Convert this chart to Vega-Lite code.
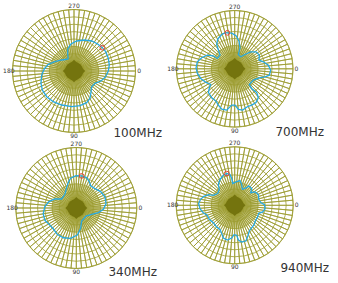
{
"$schema": "https://vega.github.io/schema/vega-lite/v6.json",
"padding": 0,
"spacing": 0,
"columns": 2,
"bounds": "flush",
"background": "white",
"config": {"view": {"stroke": null}, "concat": {"spacing": 0}, "font": "DejaVu Sans"},
"datasets": {
"one": [{"k": 1}],
"rings": [{"r": 0.16}, {"r": 0.28}, {"r": 0.4}, {"r": 0.52}, {"r": 0.64}, {"r": 0.76}, {"r": 0.88}, {"r": 1.0}],
"labels": [{"a": 0, "t": "0"}, {"a": 90, "t": "90"}, {"a": 180, "t": "180"}, {"a": 270, "t": "270"}],
"spokes": [{"w":1},{"w":1},{"w":1},{"w":1},{"w":1},{"w":1},{"w":1},{"w":1},{"w":1},{"w":1},{"w":1},{"w":1},{"w":1},{"w":1},{"w":1},{"w":1},{"w":1},{"w":1},{"w":1},{"w":1},{"w":1},{"w":1},{"w":1},{"w":1},{"w":1},{"w":1},{"w":1},{"w":1},{"w":1},{"w":1},{"w":1},{"w":1},{"w":1},{"w":1},{"w":1},{"w":1},{"w":1},{"w":1},{"w":1},{"w":1},{"w":1},{"w":1},{"w":1},{"w":1},{"w":1},{"w":1},{"w":1},{"w":1},{"w":1},{"w":1},{"w":1},{"w":1},{"w":1},{"w":1},{"w":1},{"w":1},{"w":1},{"w":1},{"w":1},{"w":1},{"w":1},{"w":1},{"w":1},{"w":1},{"w":1},{"w":1},{"w":1},{"w":1},{"w":1},{"w":1},{"w":1},{"w":1}],
"t100": [
{"i":0,"u":-0.093,"v":-0.195},{"i":1,"u":-0.2,"v":-0.179},{"i":2,"u":-0.309,"v":-0.151},{"i":3,"u":-0.418,"v":-0.109},{"i":4,"u":-0.483,"v":-0.033},{"i":5,"u":-0.525,"v":0.065},{"i":6,"u":-0.537,"v":0.2},{"i":7,"u":-0.515,"v":0.309},{"i":8,"u":-0.444,"v":0.418},{"i":9,"u":-0.337,"v":0.499},{"i":10,"u":-0.2,"v":0.553},{"i":11,"u":-0.037,"v":0.58},{"i":12,"u":0.098,"v":0.564},{"i":13,"u":0.206,"v":0.515},{"i":14,"u":0.26,"v":0.444},{"i":15,"u":0.276,"v":0.346},{"i":16,"u":0.288,"v":0.255},{"i":17,"u":0.341,"v":0.2},{"i":18,"u":0.439,"v":0.163},{"i":19,"u":0.515,"v":0.093},{"i":20,"u":0.558,"v":0},{"i":21,"u":0.574,"v":-0.098},{"i":22,"u":0.558,"v":-0.207},{"i":23,"u":0.515,"v":-0.314},{"i":24,"u":0.46,"v":-0.379},{"i":25,"u":0.385,"v":-0.439},{"i":26,"u":0.288,"v":-0.488},{"i":27,"u":0.167,"v":-0.504},{"i":28,"u":0.044,"v":-0.488},{"i":29,"u":-0.049,"v":-0.439},{"i":30,"u":-0.102,"v":-0.358},{"i":31,"u":-0.102,"v":-0.26},{"i":32,"u":-0.093,"v":-0.195}],
"m100": [{"u":0.46,"v":-0.379}],
"t700": [
{"i":0,"u":-0.126,"v":-0.617},{"i":1,"u":-0.051,"v":-0.611},{"i":2,"u":0.023,"v":-0.566},{"i":3,"u":0.074,"v":-0.474},{"i":4,"u":0.091,"v":-0.36},{"i":5,"u":0.063,"v":-0.246},{"i":6,"u":0.103,"v":-0.206},{"i":7,"u":0.177,"v":-0.246},{"i":8,"u":0.274,"v":-0.291},{"i":9,"u":0.366,"v":-0.291},{"i":10,"u":0.423,"v":-0.234},{"i":11,"u":0.417,"v":-0.149},{"i":12,"u":0.491,"v":-0.12},{"i":13,"u":0.577,"v":-0.063},{"i":14,"u":0.617,"v":0.023},{"i":15,"u":0.594,"v":0.109},{"i":16,"u":0.52,"v":0.137},{"i":17,"u":0.423,"v":0.154},{"i":18,"u":0.32,"v":0.194},{"i":19,"u":0.251,"v":0.269},{"i":20,"u":0.291,"v":0.337},{"i":21,"u":0.377,"v":0.406},{"i":22,"u":0.406,"v":0.497},{"i":23,"u":0.366,"v":0.577},{"i":24,"u":0.291,"v":0.623},{"i":25,"u":0.217,"v":0.651},{"i":26,"u":0.137,"v":0.709},{"i":27,"u":0.063,"v":0.697},{"i":28,"u":0.006,"v":0.623},{"i":29,"u":-0.051,"v":0.623},{"i":30,"u":-0.137,"v":0.709},{"i":31,"u":-0.223,"v":0.691},{"i":32,"u":-0.28,"v":0.623},{"i":33,"u":-0.32,"v":0.554},{"i":34,"u":-0.394,"v":0.497},{"i":35,"u":-0.451,"v":0.406},{"i":36,"u":-0.434,"v":0.326},{"i":37,"u":-0.411,"v":0.269},{"i":38,"u":-0.491,"v":0.234},{"i":39,"u":-0.583,"v":0.166},{"i":40,"u":-0.64,"v":0.08},{"i":41,"u":-0.663,"v":-0.017},{"i":42,"u":-0.64,"v":-0.12},{"i":43,"u":-0.566,"v":-0.189},{"i":44,"u":-0.469,"v":-0.234},{"i":45,"u":-0.366,"v":-0.223},{"i":46,"u":-0.297,"v":-0.177},{"i":47,"u":-0.251,"v":-0.234},{"i":48,"u":-0.28,"v":-0.32},{"i":49,"u":-0.309,"v":-0.417},{"i":50,"u":-0.291,"v":-0.509},{"i":51,"u":-0.223,"v":-0.589},{"i":52,"u":-0.166,"v":-0.617},{"i":53,"u":-0.126,"v":-0.617}],
"m700": [{"u":-0.126,"v":-0.617}],
"t340": [
{"i":0,"u":-0.133,"v":-0.42},{"i":1,"u":-0.094,"v":-0.492},{"i":2,"u":-0.006,"v":-0.536},{"i":3,"u":0.088,"v":-0.53},{"i":4,"u":0.171,"v":-0.503},{"i":5,"u":0.215,"v":-0.436},{"i":6,"u":0.238,"v":-0.365},{"i":7,"u":0.309,"v":-0.32},{"i":8,"u":0.403,"v":-0.271},{"i":9,"u":0.475,"v":-0.182},{"i":10,"u":0.492,"v":-0.072},{"i":11,"u":0.448,"v":0.022},{"i":12,"u":0.365,"v":0.077},{"i":13,"u":0.254,"v":0.105},{"i":14,"u":0.16,"v":0.133},{"i":15,"u":0.088,"v":0.215},{"i":16,"u":0.072,"v":0.337},{"i":17,"u":0.017,"v":0.448},{"i":18,"u":-0.094,"v":0.503},{"i":19,"u":-0.215,"v":0.492},{"i":20,"u":-0.315,"v":0.436},{"i":21,"u":-0.381,"v":0.343},{"i":22,"u":-0.448,"v":0.271},{"i":23,"u":-0.519,"v":0.204},{"i":24,"u":-0.547,"v":0.094},{"i":25,"u":-0.519,"v":-0.022},{"i":26,"u":-0.453,"v":-0.105},{"i":27,"u":-0.354,"v":-0.149},{"i":28,"u":-0.243,"v":-0.149},{"i":29,"u":-0.188,"v":-0.227},{"i":30,"u":-0.16,"v":-0.337},{"i":31,"u":-0.133,"v":-0.42}],
"m340": [{"u":0.088,"v":-0.53}],
"t940": [
{"i":0,"u":-0.194,"v":-0.514},{"i":1,"u":-0.137,"v":-0.543},{"i":2,"u":-0.08,"v":-0.526},{"i":3,"u":-0.051,"v":-0.457},{"i":4,"u":-0.034,"v":-0.371},{"i":5,"u":0.023,"v":-0.4},{"i":6,"u":0.091,"v":-0.423},{"i":7,"u":0.12,"v":-0.354},{"i":8,"u":0.131,"v":-0.274},{"i":9,"u":0.194,"v":-0.297},{"i":10,"u":0.24,"v":-0.331},{"i":11,"u":0.291,"v":-0.286},{"i":12,"u":0.274,"v":-0.217},{"i":13,"u":0.349,"v":-0.229},{"i":14,"u":0.406,"v":-0.183},{"i":15,"u":0.411,"v":-0.103},{"i":16,"u":0.446,"v":-0.046},{"i":17,"u":0.509,"v":-0.011},{"i":18,"u":0.52,"v":0.057},{"i":19,"u":0.48,"v":0.114},{"i":20,"u":0.411,"v":0.137},{"i":21,"u":0.389,"v":0.206},{"i":22,"u":0.354,"v":0.263},{"i":23,"u":0.331,"v":0.331},{"i":24,"u":0.286,"v":0.389},{"i":25,"u":0.251,"v":0.434},{"i":26,"u":0.229,"v":0.514},{"i":27,"u":0.194,"v":0.606},{"i":28,"u":0.12,"v":0.629},{"i":29,"u":0.063,"v":0.594},{"i":30,"u":0.034,"v":0.514},{"i":31,"u":-0.011,"v":0.503},{"i":32,"u":-0.051,"v":0.56},{"i":33,"u":-0.126,"v":0.594},{"i":34,"u":-0.194,"v":0.56},{"i":35,"u":-0.223,"v":0.48},{"i":36,"u":-0.251,"v":0.411},{"i":37,"u":-0.309,"v":0.371},{"i":38,"u":-0.366,"v":0.297},{"i":39,"u":-0.434,"v":0.24},{"i":40,"u":-0.469,"v":0.171},{"i":41,"u":-0.537,"v":0.126},{"i":42,"u":-0.594,"v":0.057},{"i":43,"u":-0.617,"v":-0.029},{"i":44,"u":-0.583,"v":-0.103},{"i":45,"u":-0.526,"v":-0.154},{"i":46,"u":-0.446,"v":-0.183},{"i":47,"u":-0.366,"v":-0.171},{"i":48,"u":-0.291,"v":-0.2},{"i":49,"u":-0.263,"v":-0.269},{"i":50,"u":-0.28,"v":-0.354},{"i":51,"u":-0.251,"v":-0.44},{"i":52,"u":-0.194,"v":-0.514}],
"m940": [{"u":-0.137,"v":-0.543}]
},
"concat": [
{"width": 169, "height": 141, "resolve": {"scale": {"theta": "independent"}},
 "layer": [
  {"data": {"name": "one"}, "mark": {"type": "arc", "theta": 0, "theta2": 6.2832, "fill": "#d6d6a2"}, "encoding": {"x": {"datum": 0, "type": "quantitative", "scale": {"domain": [-1.2033, 1.5447], "nice": false, "zero": false}, "axis": null}, "y": {"datum": 0, "type": "quantitative", "scale": {"domain": [-1.1545, 1.1382], "nice": false, "zero": false, "reverse": true}, "axis": null}, "radius": {"datum": 0.4, "type": "quantitative", "stack": null, "scale": {"type": "linear", "domain": [0, 1], "range": [0, 61.5], "zero": true, "nice": false}}}},
  {"data": {"name": "spokes"}, "mark": {"type": "arc", "filled": false, "color": "#9c9c30", "strokeWidth": 0.8}, "encoding": {"x": {"datum": 0, "type": "quantitative", "scale": {"domain": [-1.2033, 1.5447], "nice": false, "zero": false}, "axis": null}, "y": {"datum": 0, "type": "quantitative", "scale": {"domain": [-1.1545, 1.1382], "nice": false, "zero": false, "reverse": true}, "axis": null}, "theta": {"field": "w", "type": "quantitative", "stack": true}, "radius": {"datum": 1, "type": "quantitative", "stack": null, "scale": {"type": "linear", "domain": [0, 1], "range": [0, 61.5], "zero": true, "nice": false}}}},
  {"data": {"name": "rings"}, "mark": {"type": "arc", "filled": false, "theta": 0, "theta2": 6.2832, "color": "#9c9c30", "strokeWidth": 0.8}, "encoding": {"x": {"datum": 0, "type": "quantitative", "scale": {"domain": [-1.2033, 1.5447], "nice": false, "zero": false}, "axis": null}, "y": {"datum": 0, "type": "quantitative", "scale": {"domain": [-1.1545, 1.1382], "nice": false, "zero": false, "reverse": true}, "axis": null}, "radius": {"field": "r", "type": "quantitative", "stack": null, "scale": {"type": "linear", "domain": [0, 1], "range": [0, 61.5], "zero": true, "nice": false}}}},
  {"data": {"name": "one"}, "mark": {"type": "arc", "theta": 0, "theta2": 6.2832, "fill": "#74740e"}, "encoding": {"x": {"datum": 0, "type": "quantitative", "scale": {"domain": [-1.2033, 1.5447], "nice": false, "zero": false}, "axis": null}, "y": {"datum": 0, "type": "quantitative", "scale": {"domain": [-1.1545, 1.1382], "nice": false, "zero": false, "reverse": true}, "axis": null}, "radius": {"datum": 0.15, "type": "quantitative", "stack": null, "scale": {"type": "linear", "domain": [0, 1], "range": [0, 61.5], "zero": true, "nice": false}}}},
  {"data": {"name": "one"}, "mark": {"type": "point", "shape": "diamond", "filled": true, "color": "#74740e", "size": 500, "opacity": 1}, "encoding": {"x": {"datum": 0, "type": "quantitative", "scale": {"domain": [-1.2033, 1.5447], "nice": false, "zero": false}, "axis": null}, "y": {"datum": 0, "type": "quantitative", "scale": {"domain": [-1.1545, 1.1382], "nice": false, "zero": false, "reverse": true}, "axis": null}}},
  {"data": {"name": "t100"}, "mark": {"type": "line", "color": "#27a9e1", "strokeWidth": 1.3}, "encoding": {"x": {"field": "u", "type": "quantitative", "scale": {"domain": [-1.2033, 1.5447], "nice": false, "zero": false}, "axis": null}, "y": {"field": "v", "type": "quantitative", "scale": {"domain": [-1.1545, 1.1382], "nice": false, "zero": false, "reverse": true}, "axis": null}, "order": {"field": "i", "type": "quantitative"}}},
  {"data": {"name": "m100"}, "mark": {"type": "point", "shape": "circle", "filled": false, "color": "#e0413a", "size": 22, "strokeWidth": 1, "opacity": 1}, "encoding": {"x": {"field": "u", "type": "quantitative", "scale": {"domain": [-1.2033, 1.5447], "nice": false, "zero": false}, "axis": null}, "y": {"field": "v", "type": "quantitative", "scale": {"domain": [-1.1545, 1.1382], "nice": false, "zero": false, "reverse": true}, "axis": null}}},
  {"data": {"name": "labels"}, "mark": {"type": "text", "fontSize": 6, "color": "#333333"}, "encoding": {"x": {"datum": 0, "type": "quantitative", "scale": {"domain": [-1.2033, 1.5447], "nice": false, "zero": false}, "axis": null}, "y": {"datum": 0, "type": "quantitative", "scale": {"domain": [-1.1545, 1.1382], "nice": false, "zero": false, "reverse": true}, "axis": null}, "text": {"field": "t"}, "theta": {"field": "a", "type": "quantitative", "stack": null, "scale": {"domain": [0, 360], "range": [1.5708, 7.854], "zero": false, "nice": false}}, "radius": {"datum": 1.06, "type": "quantitative", "stack": null, "scale": {"type": "linear", "domain": [0, 1], "range": [0, 61.5], "zero": true, "nice": false}}}},
  {"data": {"name": "one"}, "mark": {"type": "text", "text": "100MHz", "fontSize": 12, "align": "right", "baseline": "alphabetic", "color": "#333333"}, "encoding": {"x": {"datum": 1.431, "type": "quantitative", "scale": {"domain": [-1.2033, 1.5447], "nice": false, "zero": false}, "axis": null}, "y": {"datum": 1.073, "type": "quantitative", "scale": {"domain": [-1.1545, 1.1382], "nice": false, "zero": false, "reverse": true}, "axis": null}}}
 ]},
{"width": 169, "height": 141, "resolve": {"scale": {"theta": "independent"}},
 "layer": [
  {"data": {"name": "one"}, "mark": {"type": "arc", "theta": 0, "theta2": 6.2832, "fill": "#d6d6a2"}, "encoding": {"x": {"datum": 0, "type": "quantitative", "scale": {"domain": [-1.1269, 1.7719], "nice": false, "zero": false}, "axis": null}, "y": {"datum": 0, "type": "quantitative", "scale": {"domain": [-1.1801, 1.2384], "nice": false, "zero": false, "reverse": true}, "axis": null}, "radius": {"datum": 0.4, "type": "quantitative", "stack": null, "scale": {"type": "linear", "domain": [0, 1], "range": [0, 58.3], "zero": true, "nice": false}}}},
  {"data": {"name": "spokes"}, "mark": {"type": "arc", "filled": false, "color": "#9c9c30", "strokeWidth": 0.8}, "encoding": {"x": {"datum": 0, "type": "quantitative", "scale": {"domain": [-1.1269, 1.7719], "nice": false, "zero": false}, "axis": null}, "y": {"datum": 0, "type": "quantitative", "scale": {"domain": [-1.1801, 1.2384], "nice": false, "zero": false, "reverse": true}, "axis": null}, "theta": {"field": "w", "type": "quantitative", "stack": true}, "radius": {"datum": 1, "type": "quantitative", "stack": null, "scale": {"type": "linear", "domain": [0, 1], "range": [0, 58.3], "zero": true, "nice": false}}}},
  {"data": {"name": "rings"}, "mark": {"type": "arc", "filled": false, "theta": 0, "theta2": 6.2832, "color": "#9c9c30", "strokeWidth": 0.8}, "encoding": {"x": {"datum": 0, "type": "quantitative", "scale": {"domain": [-1.1269, 1.7719], "nice": false, "zero": false}, "axis": null}, "y": {"datum": 0, "type": "quantitative", "scale": {"domain": [-1.1801, 1.2384], "nice": false, "zero": false, "reverse": true}, "axis": null}, "radius": {"field": "r", "type": "quantitative", "stack": null, "scale": {"type": "linear", "domain": [0, 1], "range": [0, 58.3], "zero": true, "nice": false}}}},
  {"data": {"name": "one"}, "mark": {"type": "arc", "theta": 0, "theta2": 6.2832, "fill": "#74740e"}, "encoding": {"x": {"datum": 0, "type": "quantitative", "scale": {"domain": [-1.1269, 1.7719], "nice": false, "zero": false}, "axis": null}, "y": {"datum": 0, "type": "quantitative", "scale": {"domain": [-1.1801, 1.2384], "nice": false, "zero": false, "reverse": true}, "axis": null}, "radius": {"datum": 0.15, "type": "quantitative", "stack": null, "scale": {"type": "linear", "domain": [0, 1], "range": [0, 58.3], "zero": true, "nice": false}}}},
  {"data": {"name": "one"}, "mark": {"type": "point", "shape": "diamond", "filled": true, "color": "#74740e", "size": 460, "opacity": 1}, "encoding": {"x": {"datum": 0, "type": "quantitative", "scale": {"domain": [-1.1269, 1.7719], "nice": false, "zero": false}, "axis": null}, "y": {"datum": 0, "type": "quantitative", "scale": {"domain": [-1.1801, 1.2384], "nice": false, "zero": false, "reverse": true}, "axis": null}}},
  {"data": {"name": "t700"}, "mark": {"type": "line", "color": "#27a9e1", "strokeWidth": 1.3}, "encoding": {"x": {"field": "u", "type": "quantitative", "scale": {"domain": [-1.1269, 1.7719], "nice": false, "zero": false}, "axis": null}, "y": {"field": "v", "type": "quantitative", "scale": {"domain": [-1.1801, 1.2384], "nice": false, "zero": false, "reverse": true}, "axis": null}, "order": {"field": "i", "type": "quantitative"}}},
  {"data": {"name": "m700"}, "mark": {"type": "point", "shape": "circle", "filled": false, "color": "#e0413a", "size": 22, "strokeWidth": 1, "opacity": 1}, "encoding": {"x": {"field": "u", "type": "quantitative", "scale": {"domain": [-1.1269, 1.7719], "nice": false, "zero": false}, "axis": null}, "y": {"field": "v", "type": "quantitative", "scale": {"domain": [-1.1801, 1.2384], "nice": false, "zero": false, "reverse": true}, "axis": null}}},
  {"data": {"name": "labels"}, "mark": {"type": "text", "fontSize": 6, "color": "#333333"}, "encoding": {"x": {"datum": 0, "type": "quantitative", "scale": {"domain": [-1.1269, 1.7719], "nice": false, "zero": false}, "axis": null}, "y": {"datum": 0, "type": "quantitative", "scale": {"domain": [-1.1801, 1.2384], "nice": false, "zero": false, "reverse": true}, "axis": null}, "text": {"field": "t"}, "theta": {"field": "a", "type": "quantitative", "stack": null, "scale": {"domain": [0, 360], "range": [1.5708, 7.854], "zero": false, "nice": false}}, "radius": {"datum": 1.06, "type": "quantitative", "stack": null, "scale": {"type": "linear", "domain": [0, 1], "range": [0, 58.3], "zero": true, "nice": false}}}},
  {"data": {"name": "one"}, "mark": {"type": "text", "text": "700MHz", "fontSize": 12, "align": "right", "baseline": "alphabetic", "color": "#333333"}, "encoding": {"x": {"datum": 1.532, "type": "quantitative", "scale": {"domain": [-1.1269, 1.7719], "nice": false, "zero": false}, "axis": null}, "y": {"datum": 1.153, "type": "quantitative", "scale": {"domain": [-1.1801, 1.2384], "nice": false, "zero": false, "reverse": true}, "axis": null}}}
 ]},
{"width": 169, "height": 142, "resolve": {"scale": {"theta": "independent"}},
 "layer": [
  {"data": {"name": "one"}, "mark": {"type": "arc", "theta": 0, "theta2": 6.2832, "fill": "#d6d6a2"}, "encoding": {"x": {"datum": 0, "type": "quantitative", "scale": {"domain": [-1.2612, 1.5322], "nice": false, "zero": false}, "axis": null}, "y": {"datum": 0, "type": "quantitative", "scale": {"domain": [-1.1074, 1.2397], "nice": false, "zero": false, "reverse": true}, "axis": null}, "radius": {"datum": 0.4, "type": "quantitative", "stack": null, "scale": {"type": "linear", "domain": [0, 1], "range": [0, 60.5], "zero": true, "nice": false}}}},
  {"data": {"name": "spokes"}, "mark": {"type": "arc", "filled": false, "color": "#9c9c30", "strokeWidth": 0.8}, "encoding": {"x": {"datum": 0, "type": "quantitative", "scale": {"domain": [-1.2612, 1.5322], "nice": false, "zero": false}, "axis": null}, "y": {"datum": 0, "type": "quantitative", "scale": {"domain": [-1.1074, 1.2397], "nice": false, "zero": false, "reverse": true}, "axis": null}, "theta": {"field": "w", "type": "quantitative", "stack": true}, "radius": {"datum": 1, "type": "quantitative", "stack": null, "scale": {"type": "linear", "domain": [0, 1], "range": [0, 60.5], "zero": true, "nice": false}}}},
  {"data": {"name": "rings"}, "mark": {"type": "arc", "filled": false, "theta": 0, "theta2": 6.2832, "color": "#9c9c30", "strokeWidth": 0.8}, "encoding": {"x": {"datum": 0, "type": "quantitative", "scale": {"domain": [-1.2612, 1.5322], "nice": false, "zero": false}, "axis": null}, "y": {"datum": 0, "type": "quantitative", "scale": {"domain": [-1.1074, 1.2397], "nice": false, "zero": false, "reverse": true}, "axis": null}, "radius": {"field": "r", "type": "quantitative", "stack": null, "scale": {"type": "linear", "domain": [0, 1], "range": [0, 60.5], "zero": true, "nice": false}}}},
  {"data": {"name": "one"}, "mark": {"type": "arc", "theta": 0, "theta2": 6.2832, "fill": "#74740e"}, "encoding": {"x": {"datum": 0, "type": "quantitative", "scale": {"domain": [-1.2612, 1.5322], "nice": false, "zero": false}, "axis": null}, "y": {"datum": 0, "type": "quantitative", "scale": {"domain": [-1.1074, 1.2397], "nice": false, "zero": false, "reverse": true}, "axis": null}, "radius": {"datum": 0.15, "type": "quantitative", "stack": null, "scale": {"type": "linear", "domain": [0, 1], "range": [0, 60.5], "zero": true, "nice": false}}}},
  {"data": {"name": "one"}, "mark": {"type": "point", "shape": "diamond", "filled": true, "color": "#74740e", "size": 480, "opacity": 1}, "encoding": {"x": {"datum": 0, "type": "quantitative", "scale": {"domain": [-1.2612, 1.5322], "nice": false, "zero": false}, "axis": null}, "y": {"datum": 0, "type": "quantitative", "scale": {"domain": [-1.1074, 1.2397], "nice": false, "zero": false, "reverse": true}, "axis": null}}},
  {"data": {"name": "t340"}, "mark": {"type": "line", "color": "#27a9e1", "strokeWidth": 1.3}, "encoding": {"x": {"field": "u", "type": "quantitative", "scale": {"domain": [-1.2612, 1.5322], "nice": false, "zero": false}, "axis": null}, "y": {"field": "v", "type": "quantitative", "scale": {"domain": [-1.1074, 1.2397], "nice": false, "zero": false, "reverse": true}, "axis": null}, "order": {"field": "i", "type": "quantitative"}}},
  {"data": {"name": "m340"}, "mark": {"type": "point", "shape": "circle", "filled": false, "color": "#e0413a", "size": 22, "strokeWidth": 1, "opacity": 1}, "encoding": {"x": {"field": "u", "type": "quantitative", "scale": {"domain": [-1.2612, 1.5322], "nice": false, "zero": false}, "axis": null}, "y": {"field": "v", "type": "quantitative", "scale": {"domain": [-1.1074, 1.2397], "nice": false, "zero": false, "reverse": true}, "axis": null}}},
  {"data": {"name": "labels"}, "mark": {"type": "text", "fontSize": 6, "color": "#333333"}, "encoding": {"x": {"datum": 0, "type": "quantitative", "scale": {"domain": [-1.2612, 1.5322], "nice": false, "zero": false}, "axis": null}, "y": {"datum": 0, "type": "quantitative", "scale": {"domain": [-1.1074, 1.2397], "nice": false, "zero": false, "reverse": true}, "axis": null}, "text": {"field": "t"}, "theta": {"field": "a", "type": "quantitative", "stack": null, "scale": {"domain": [0, 360], "range": [1.5708, 7.854], "zero": false, "nice": false}}, "radius": {"datum": 1.06, "type": "quantitative", "stack": null, "scale": {"type": "linear", "domain": [0, 1], "range": [0, 60.5], "zero": true, "nice": false}}}},
  {"data": {"name": "one"}, "mark": {"type": "text", "text": "340MHz", "fontSize": 12, "align": "right", "baseline": "alphabetic", "color": "#333333"}, "encoding": {"x": {"datum": 1.334, "type": "quantitative", "scale": {"domain": [-1.2612, 1.5322], "nice": false, "zero": false}, "axis": null}, "y": {"datum": 1.124, "type": "quantitative", "scale": {"domain": [-1.1074, 1.2397], "nice": false, "zero": false, "reverse": true}, "axis": null}}}
 ]},
{"width": 169, "height": 142, "resolve": {"scale": {"theta": "independent"}},
 "layer": [
  {"data": {"name": "one"}, "mark": {"type": "arc", "theta": 0, "theta2": 6.2832, "fill": "#d6d6a2"}, "encoding": {"x": {"datum": 0, "type": "quantitative", "scale": {"domain": [-1.1231, 1.7658], "nice": false, "zero": false}, "axis": null}, "y": {"datum": 0, "type": "quantitative", "scale": {"domain": [-1.0991, 1.3282], "nice": false, "zero": false, "reverse": true}, "axis": null}, "radius": {"datum": 0.4, "type": "quantitative", "stack": null, "scale": {"type": "linear", "domain": [0, 1], "range": [0, 58.5], "zero": true, "nice": false}}}},
  {"data": {"name": "spokes"}, "mark": {"type": "arc", "filled": false, "color": "#9c9c30", "strokeWidth": 0.8}, "encoding": {"x": {"datum": 0, "type": "quantitative", "scale": {"domain": [-1.1231, 1.7658], "nice": false, "zero": false}, "axis": null}, "y": {"datum": 0, "type": "quantitative", "scale": {"domain": [-1.0991, 1.3282], "nice": false, "zero": false, "reverse": true}, "axis": null}, "theta": {"field": "w", "type": "quantitative", "stack": true}, "radius": {"datum": 1, "type": "quantitative", "stack": null, "scale": {"type": "linear", "domain": [0, 1], "range": [0, 58.5], "zero": true, "nice": false}}}},
  {"data": {"name": "rings"}, "mark": {"type": "arc", "filled": false, "theta": 0, "theta2": 6.2832, "color": "#9c9c30", "strokeWidth": 0.8}, "encoding": {"x": {"datum": 0, "type": "quantitative", "scale": {"domain": [-1.1231, 1.7658], "nice": false, "zero": false}, "axis": null}, "y": {"datum": 0, "type": "quantitative", "scale": {"domain": [-1.0991, 1.3282], "nice": false, "zero": false, "reverse": true}, "axis": null}, "radius": {"field": "r", "type": "quantitative", "stack": null, "scale": {"type": "linear", "domain": [0, 1], "range": [0, 58.5], "zero": true, "nice": false}}}},
  {"data": {"name": "one"}, "mark": {"type": "arc", "theta": 0, "theta2": 6.2832, "fill": "#74740e"}, "encoding": {"x": {"datum": 0, "type": "quantitative", "scale": {"domain": [-1.1231, 1.7658], "nice": false, "zero": false}, "axis": null}, "y": {"datum": 0, "type": "quantitative", "scale": {"domain": [-1.0991, 1.3282], "nice": false, "zero": false, "reverse": true}, "axis": null}, "radius": {"datum": 0.15, "type": "quantitative", "stack": null, "scale": {"type": "linear", "domain": [0, 1], "range": [0, 58.5], "zero": true, "nice": false}}}},
  {"data": {"name": "one"}, "mark": {"type": "point", "shape": "diamond", "filled": true, "color": "#74740e", "size": 460, "opacity": 1}, "encoding": {"x": {"datum": 0, "type": "quantitative", "scale": {"domain": [-1.1231, 1.7658], "nice": false, "zero": false}, "axis": null}, "y": {"datum": 0, "type": "quantitative", "scale": {"domain": [-1.0991, 1.3282], "nice": false, "zero": false, "reverse": true}, "axis": null}}},
  {"data": {"name": "t940"}, "mark": {"type": "line", "color": "#27a9e1", "strokeWidth": 1.3}, "encoding": {"x": {"field": "u", "type": "quantitative", "scale": {"domain": [-1.1231, 1.7658], "nice": false, "zero": false}, "axis": null}, "y": {"field": "v", "type": "quantitative", "scale": {"domain": [-1.0991, 1.3282], "nice": false, "zero": false, "reverse": true}, "axis": null}, "order": {"field": "i", "type": "quantitative"}}},
  {"data": {"name": "m940"}, "mark": {"type": "point", "shape": "circle", "filled": false, "color": "#e0413a", "size": 22, "strokeWidth": 1, "opacity": 1}, "encoding": {"x": {"field": "u", "type": "quantitative", "scale": {"domain": [-1.1231, 1.7658], "nice": false, "zero": false}, "axis": null}, "y": {"field": "v", "type": "quantitative", "scale": {"domain": [-1.0991, 1.3282], "nice": false, "zero": false, "reverse": true}, "axis": null}}},
  {"data": {"name": "labels"}, "mark": {"type": "text", "fontSize": 6, "color": "#333333"}, "encoding": {"x": {"datum": 0, "type": "quantitative", "scale": {"domain": [-1.1231, 1.7658], "nice": false, "zero": false}, "axis": null}, "y": {"datum": 0, "type": "quantitative", "scale": {"domain": [-1.0991, 1.3282], "nice": false, "zero": false, "reverse": true}, "axis": null}, "text": {"field": "t"}, "theta": {"field": "a", "type": "quantitative", "stack": null, "scale": {"domain": [0, 360], "range": [1.5708, 7.854], "zero": false, "nice": false}}, "radius": {"datum": 1.06, "type": "quantitative", "stack": null, "scale": {"type": "linear", "domain": [0, 1], "range": [0, 58.5], "zero": true, "nice": false}}}},
  {"data": {"name": "one"}, "mark": {"type": "text", "text": "940MHz", "fontSize": 12, "align": "right", "baseline": "alphabetic", "color": "#333333"}, "encoding": {"x": {"datum": 1.612, "type": "quantitative", "scale": {"domain": [-1.1231, 1.7658], "nice": false, "zero": false}, "axis": null}, "y": {"datum": 1.14, "type": "quantitative", "scale": {"domain": [-1.0991, 1.3282], "nice": false, "zero": false, "reverse": true}, "axis": null}}}
 ]}
]
}
